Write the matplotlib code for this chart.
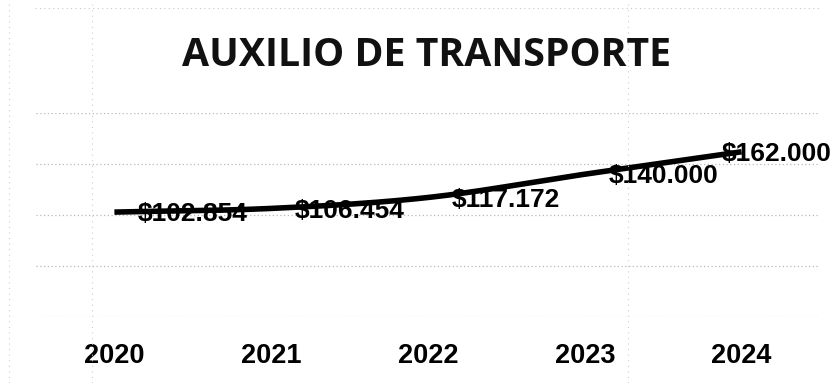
import numpy as np
import matplotlib
matplotlib.use("Agg")
import matplotlib.pyplot as plt
from matplotlib.lines import Line2D

years = ["2020", "2021", "2022", "2023", "2024"]
auxilio = [102854, 106454, 117172, 140000, 162000]
value_labels = ["$102.854", "$106.454", "$117.172", "$140.000", "$162.000"]
title = "AUXILIO DE TRANSPORTE"


def smooth_curve(xs, ys, steps=40):
    """Catmull-Rom style smoothing through every point (like a smoothed line chart)."""
    xs = np.asarray(xs, float)
    ys = np.asarray(ys, float)
    n = len(xs)
    out_x, out_y = [], []
    for i in range(n - 1):
        p0 = i - 1 if i > 0 else i
        p3 = i + 2 if i + 2 < n else i + 1
        t = np.linspace(0, 1, steps, endpoint=(i == n - 2))
        m1x = (xs[i + 1] - xs[p0]) / (2 if p0 != i else 1) / 3
        m1y = (ys[i + 1] - ys[p0]) / (2 if p0 != i else 1) / 3
        m2x = (xs[p3] - xs[i]) / (2 if p3 != i + 1 else 1) / 3
        m2y = (ys[p3] - ys[i]) / (2 if p3 != i + 1 else 1) / 3
        b0 = (1 - t) ** 3
        b1 = 3 * (1 - t) ** 2 * t
        b2 = 3 * (1 - t) * t ** 2
        b3 = t ** 3
        out_x.append(b0 * xs[i] + b1 * (xs[i] + m1x) + b2 * (xs[i + 1] - m2x) + b3 * xs[i + 1])
        out_y.append(b0 * ys[i] + b1 * (ys[i] + m1y) + b2 * (ys[i + 1] - m2y) + b3 * ys[i + 1])
    return np.concatenate(out_x), np.concatenate(out_y)


W, H = 838, 383
fig = plt.figure(figsize=(W / 100, H / 100), dpi=100)
ax = fig.add_axes([36 / W, 1 - 317 / H, (820 - 36) / W, (317 - 113) / H])

x = np.arange(len(years))
sx, sy = smooth_curve(x, auxilio)
ax.plot(sx, sy, color="black", lw=4.0, solid_capstyle="butt", zorder=3)

ax.set_xlim(-0.5, len(years) - 0.5)
ax.set_ylim(0, 200000)
ax.set_yticks(np.arange(0, 200001, 50000))
ax.yaxis.grid(True, color="#b8b8b8", lw=0.9, ls=(0, (1, 2)))
ax.set_axisbelow(True)
for s in ax.spines.values():
    s.set_visible(False)
ax.tick_params(axis="y", left=False, labelleft=False)
ax.tick_params(axis="x", bottom=False, pad=15)
ax.set_xticks(x)
ax.set_xticklabels(years, fontsize=19.5, fontweight="bold", family="Liberation Sans")

for i, (xi, yi, lab) in enumerate(zip(x, auxilio, value_labels)):
    dx = 17 if i < len(x) - 1 else -14
    ax.annotate(lab, (xi, yi), xytext=(dx, -1.5), textcoords="offset points",
                ha="left", va="center", fontsize=19, fontweight="bold",
                family="Liberation Sans", color="black", zorder=4,
                annotation_clip=False)

fig.text(427 / W, 1 - 56 / H, title, ha="center", va="center",
         fontsize=28.3, fontweight="bold", family="Open Sans", color="#111111")

# faint frame lines around the chart area
fig.add_artist(Line2D([35 / W, 820 / W], [1 - 8 / H, 1 - 8 / H], color="#c8c8c8",
                      lw=0.8, ls=(0, (1, 3))))
for xv in (9, 92, 628):
    fig.add_artist(Line2D([xv / W, xv / W], [0, 1], color="#cfcfcf", lw=0.8,
                          ls=(0, (1, 4))))

fig.savefig("out.png", dpi=100, facecolor="white")
